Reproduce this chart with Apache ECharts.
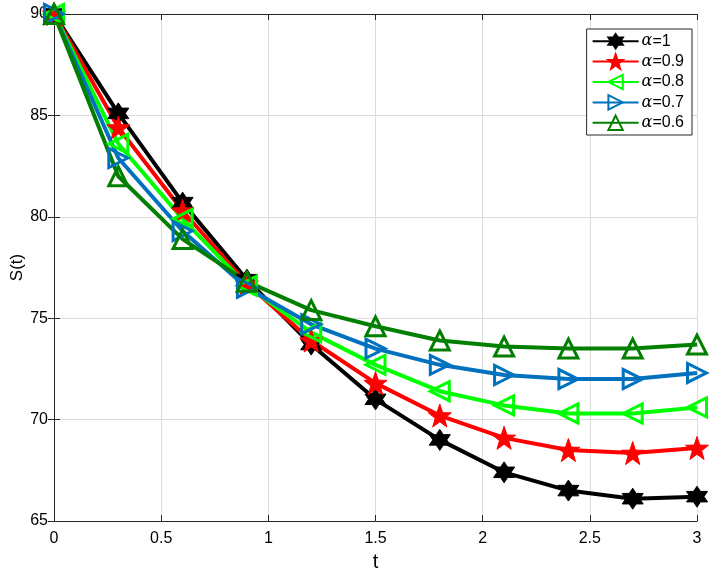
<!DOCTYPE html>
<html>
<head>
<meta charset="utf-8">
<script src="https://cdn.jsdelivr.net/npm/echarts@6/dist/echarts.min.js"></script>
<style>
  html, body { margin: 0; padding: 0; background: #fff; }
  #chart { width: 712px; height: 577px; }
</style>
</head>
<body>
<div id="chart"></div>
<script>
// time points
var tValues = [0, 0.3, 0.6, 0.9, 1.2, 1.5, 1.8, 2.1, 2.4, 2.7, 3.0]

// S(t) for each alpha
var sAlpha10 = [90, 85.1, 80.7, 76.9, 73.7, 71.0, 69.0, 67.4, 66.5, 66.1, 66.2]
var sAlpha09 = [90, 84.4, 80.3, 76.7, 73.9, 71.8, 70.2, 69.1, 68.5, 68.35, 68.6]
var sAlpha08 = [90, 83.6, 79.9, 76.6, 74.3, 72.7, 71.4, 70.7, 70.3, 70.3, 70.6]
var sAlpha07 = [90, 82.9, 79.3, 76.5, 74.7, 73.5, 72.7, 72.2, 72.0, 72.0, 72.3]
var sAlpha06 = [90, 82.0, 78.9, 76.8, 75.4, 74.6, 73.9, 73.6, 73.5, 73.5, 73.7]

var legendNames = ['α=1', 'α=0.9', 'α=0.8', 'α=0.7', 'α=0.6']
var xTicks = [0, 0.5, 1, 1.5, 2, 2.5, 3]

var hexagram = 'path://M0,-10 L2.89,-5 L8.66,-5 L5.77,0 L8.66,5 L2.89,5 L0,10 L-2.89,5 L-8.66,5 L-5.77,0 L-8.66,-5 L-2.89,-5 Z'
var pentagram = 'path://M0,-10 L2.35,-3.24 L9.51,-3.09 L3.8,1.24 L5.88,8.09 L0,4 L-5.88,8.09 L-3.8,1.24 L-9.51,-3.09 L-2.35,-3.24 Z'

function pairs (ys) {
  return tValues.map(function (t, i) { return [t, ys[i]] })
}

function makeSeries (name, ys, color, symbol, rotate, hollow, size) {
  return {
    name: name,
    type: 'line',
    data: pairs(ys),
    color: color,
    symbol: symbol,
    symbolRotate: rotate,
    symbolSize: size,
    showAllSymbol: true,
    lineStyle: { color: color, width: 4 },
    itemStyle: hollow
      ? { color: 'rgba(255,255,255,0)', borderColor: color, borderWidth: 3 }
      : { color: color, borderColor: color, borderWidth: 1 },
    emphasis: { disabled: true },
    z: 2
  }
}

var axisColor = '#262626'
var font = 'Liberation Sans, Arial, sans-serif'

var chart = echarts.init(document.getElementById('chart'))
chart.setOption({
  animation: false,
  backgroundColor: '#fff',
  grid: { left: 54, right: 15, top: 14, bottom: 56, show: false, outerBoundsMode: 'none', containLabel: false },
  legend: {
    orient: 'vertical',
    right: 20,
    top: 29,
    itemWidth: 46,
    itemHeight: 18,
    itemGap: 4,
    padding: [4, 8, 4, 5],
    backgroundColor: '#fff',
    borderColor: axisColor,
    borderWidth: 1,
    borderRadius: 0,
    data: legendNames,
    formatter: function (n) {
      return '{a|α}' + n.slice(1)
    },
    textStyle: {
      fontFamily: font,
      fontSize: 16,
      color: '#000',
      padding: [0, 0, 0, -2],
      rich: {
        a: { fontFamily: 'DejaVu Serif, serif', fontStyle: 'italic', fontSize: 16, color: '#000' }
      }
    }
  },
  xAxis: [{
    type: 'value',
    min: 0,
    max: 3,
    interval: 0.5,
    name: 't',
    nameLocation: 'middle',
    nameGap: 31,
    nameMoveOverlap: false,
    nameTextStyle: { fontFamily: font, fontSize: 20, color: '#000' },
    axisLine: { show: true, lineStyle: { color: axisColor, width: 1 } },
    axisTick: { show: true, inside: true, length: 6, lineStyle: { color: axisColor } },
    axisLabel: {
      fontFamily: font,
      fontSize: 16,
      color: '#000',
      margin: 10,
      customValues: xTicks
    },
    splitLine: { show: true, lineStyle: { color: '#dcdcdc', width: 1 } }
  }, {
    type: 'value',
    position: 'top',
    min: 0,
    max: 3,
    interval: 0.5,
    axisLine: { show: true, lineStyle: { color: axisColor, width: 1 } },
    axisTick: { show: true, inside: true, length: 6, lineStyle: { color: axisColor } },
    axisLabel: { show: false },
    splitLine: { show: false }
  }],
  yAxis: [{
    type: 'value',
    min: 65,
    max: 90,
    interval: 5,
    name: 'S(t)',
    nameLocation: 'middle',
    nameGap: 28,
    nameMoveOverlap: false,
    nameTextStyle: { fontFamily: font, fontSize: 17, color: '#000' },
    axisLine: { show: true, lineStyle: { color: axisColor, width: 1 } },
    axisTick: { show: true, inside: true, length: 6, lineStyle: { color: axisColor } },
    axisLabel: { fontFamily: font, fontSize: 16, color: '#000', margin: 6 },
    splitLine: { show: true, lineStyle: { color: '#dcdcdc', width: 1 } }
  }, {
    type: 'value',
    position: 'right',
    min: 65,
    max: 90,
    interval: 5,
    axisLine: { show: true, lineStyle: { color: axisColor, width: 1 } },
    axisTick: { show: true, inside: true, length: 6, lineStyle: { color: axisColor } },
    axisLabel: { show: false },
    splitLine: { show: false }
  }],
  series: [
    makeSeries(legendNames[0], sAlpha10, '#000000', hexagram, 0, false, 21),
    makeSeries(legendNames[1], sAlpha09, '#ff0000', pentagram, 0, false, 23),
    makeSeries(legendNames[2], sAlpha08, '#00ff00', 'triangle', 90, true, 19),
    makeSeries(legendNames[3], sAlpha07, '#0072bd', 'triangle', -90, true, 19),
    makeSeries(legendNames[4], sAlpha06, '#007f00', 'triangle', 0, true, 19)
  ]
})
</script>
</body>
</html>
